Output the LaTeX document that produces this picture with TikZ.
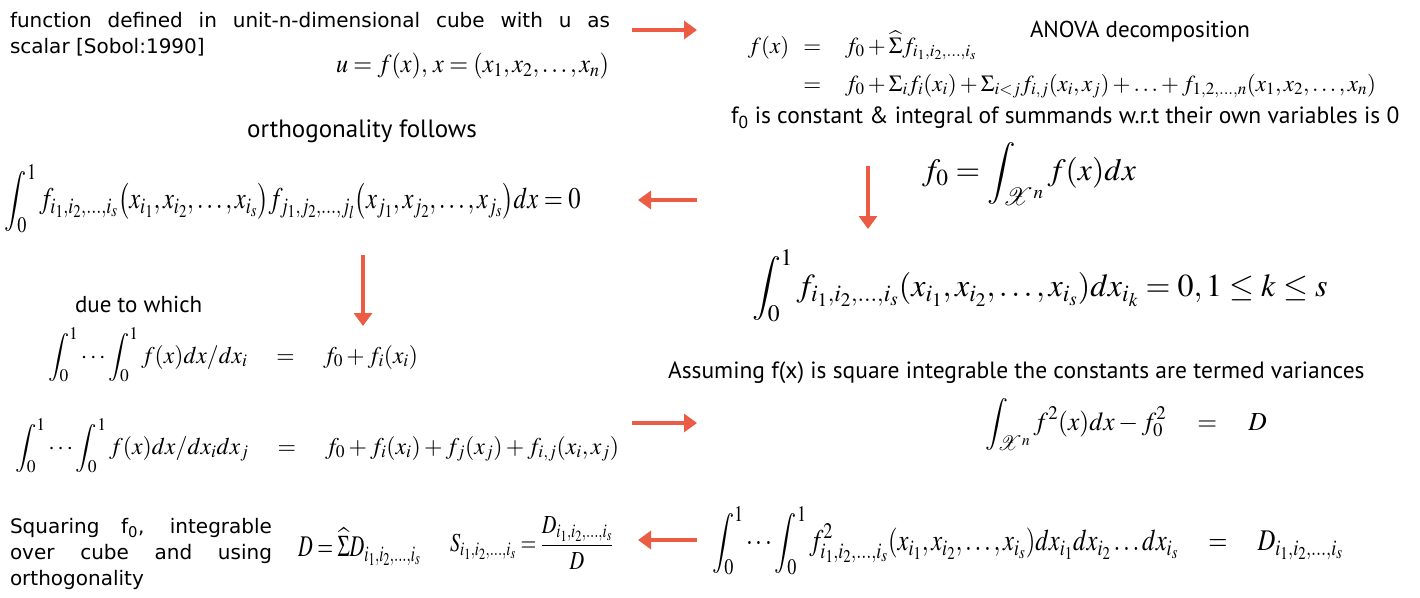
\documentclass[tikz,border=0pt]{standalone}
\usepackage{graphicx}
\usepackage{mathptmx}
\usepackage{mathrsfs}
\usepackage{fontspec}
\setmainfont{Liberation Serif}
\newfontfamily\verdfont{DejaVu Sans}
\newfontfamily\notefont{PT Sans}
\usetikzlibrary{arrows.meta}
\definecolor{flowred}{HTML}{EC5B43}
% narrowed display maths
\newcommand\narrow[2]{\scalebox{#1}[1]{$\displaystyle #2$}}

\begin{document}
\begin{tikzpicture}[x=1pt, y=-1pt,
    every node/.style={inner sep=0pt, outer sep=0pt},
    note/.style={font=\notefont\fontsize{#1}{28}\selectfont},
    note/.default=23,
    block/.style={font=\verdfont\fontsize{20}{26}\selectfont, align=justify, text width=#1},
    eq/.style={font=\fontsize{#1}{#1}\selectfont, anchor=north west},
    flow/.style={draw=flowred, line width=4pt, -{Triangle[length=13pt, width=18pt]}}]
    \useasboundingbox (0,0) rectangle (1420,597);

    % left column
    \node[block=600pt, anchor=north west] (intro) at (10,12) {function defined in unit-n-dimensional cube with u as\linebreak scalar [Sobol:1990]};
    \node[eq=26] (uf) at (336,53) {\narrow{0.93}{u=f(x),\, x=(x_1,x_2,\ldots,x_n)}};
    \node[note=25] (follows) at (362,131) {orthogonality follows};
    \node[eq=30] (ortho) at (5,165) {\narrow{0.82}{\int_0^1 f_{i_1,i_2,\ldots,i_s}\bigl(x_{i_1},x_{i_2},\ldots,x_{i_s}\bigr)f_{j_1,j_2,\ldots,j_l}\bigl(x_{j_1},x_{j_2},\ldots,x_{j_s}\bigr)dx=0}};
    \node[note, anchor=west] (due) at (75,304) {due to which};
    \node[eq=24] (marg1) at (48,328) {\narrow{0.98}{\int_0^1\cdots\int_0^1 f(x)dx/dx_i \quad=\quad f_0+f_i(x_i)}};
    \node[eq=24] (marg2) at (15,419) {\narrow{0.99}{\int_0^1\cdots\int_0^1 f(x)dx/dx_idx_j \quad=\quad f_0+f_i(x_i)+f_j(x_j)+f_{i,j}(x_i,x_j)}};
    \node[block=262pt, anchor=north west] (square) at (10,518) {Squaring f\textsubscript{0}, integrable\linebreak over cube and using\linebreak orthogonality};
    \node[eq=30] (dsum) at (298,528) {\narrow{0.68}{D=\widehat{\Sigma}D_{i_1,i_2,\ldots,i_s}}};
    \node[eq=26] (sobol) at (450,517) {\narrow{0.78}{S_{i_1,i_2,\ldots,i_s}=\frac{D_{i_1,i_2,\ldots,i_s}}{D}}};

    % right column
    \node[eq=23] (anova) at (748,31) {$f(x)\hspace{14pt}{=}\hspace{24pt}f_0+\widehat{\Sigma}f_{i_1,i_2,\ldots,i_s}$};
    \node[eq=23, anchor=north west] (anovab) at (anova.north west |- 0,74) {$\hphantom{f(x)}\hspace{14pt}{=}\hspace{24pt}f_0+\Sigma_if_i(x_i)+\Sigma_{i<j}f_{i,j}(x_i,x_j)+\ldots+f_{1,2,\ldots,n}(x_1,x_2,\ldots,x_n)$};
    \node[note, anchor=west] (anovalbl) at (1030,32) {ANOVA decomposition};
    \node[note=23.5, anchor=west] (zero) at (731,118) {f\textsubscript{0} is constant \& integral of summands w.r.t their own variables is 0};
    \node[eq=31] (fzero) at (922,142) {\narrow{1.02}{f_0=\int_{\mathscr{X}^n}f(x)dx}};
    \node[eq=32] (single) at (752,250) {\narrow{1}{\int_0^1 f_{i_1,i_2,\ldots,i_s}(x_{i_1},x_{i_2},\ldots,x_{i_s})dx_{i_k}=0,1\le k\le s}};
    \node[note=23.5, anchor=west] (assume) at (668,373) {Assuming f(x) is square integrable the constants are termed variances};
    \node[eq=26] (var) at (985,398) {\narrow{0.98}{\int_{\mathscr{X}^n}f^2(x)dx-f_0^2 \quad=\quad D}};
    \node[eq=30] (partial) at (712,507) {\narrow{0.82}{\int_0^1\cdots\int_0^1 f^2_{i_1,i_2,\ldots,i_s}(x_{i_1},x_{i_2},\ldots,x_{i_s})dx_{i_1}dx_{i_2}\ldots dx_{i_s} \quad=\quad D_{i_1,i_2,\ldots,i_s}}};

    % arrows
    \coordinate (a1s) at (632,30);  \coordinate (a1e) at (697,30);
    \coordinate (a2s) at (868,166); \coordinate (a2e) at (868,229);
    \coordinate (a3s) at (697,200); \coordinate (a3e) at (638,200);
    \coordinate (a4s) at (363,255); \coordinate (a4e) at (363,326);
    \coordinate (a5s) at (632,423); \coordinate (a5e) at (697,423);
    \coordinate (a6s) at (697,540); \coordinate (a6e) at (638,540);
    \draw[flow] (a1s) -- (a1e);
    \draw[flow] (a2s) -- (a2e);
    \draw[flow] (a3s) -- (a3e);
    \draw[flow] (a4s) -- (a4e);
    \draw[flow] (a5s) -- (a5e);
    \draw[flow] (a6s) -- (a6e);
\end{tikzpicture}
\end{document}
